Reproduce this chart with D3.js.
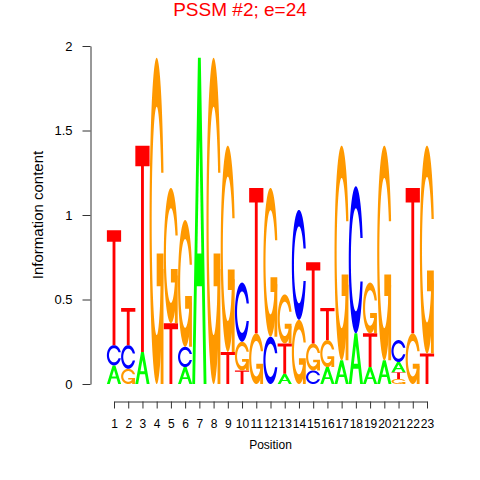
<!DOCTYPE html>
<html>
<head>
<meta charset="utf-8">
<script src="https://cdn.jsdelivr.net/npm/d3@7"></script>
<style>
  body { margin: 0; background: #fff; }
  text { font-family: "Liberation Sans", Arial, sans-serif; }
</style>
</head>
<body>
<svg id="logo" width="480" height="480"></svg>
<script>
// information content (bits) of each base at each position
const positions = d3.range(1, 24);
const bitsA = [0.11, 0, 0.19, 0, 0, 0.10, 1.93, 0, 0, 0, 0, 0, 0.06, 0, 0, 0.10, 0.14, 0.30, 0.10, 0.14, 0.06, 0, 0];
const bitsC = [0.12, 0.14, 0, 0, 0, 0.12, 0, 0, 0, 0.35, 0, 0.28, 0, 0.65, 0.08, 0, 0, 0.87, 0, 0, 0.13, 0, 0];
const bitsG = [0, 0.09, 0, 1.93, 0.80, 0.75, 0, 1.93, 1.22, 0.17, 0.30, 0.88, 0.29, 0.38, 0.16, 0.16, 1.27, 0, 0.30, 1.27, 0.03, 0.30, 1.23];
const bitsT = [0.68, 0.22, 1.22, 0, 0.36, 0, 0, 0, 0.19, 0.08, 0.86, 0, 0.18, 0, 0.48, 0.19, 0, 0, 0.20, 0, 0.04, 0.86, 0.18];
const yTicks = [0, 0.5, 1, 1.5, 2];

const colors = { A: "#00FF00", C: "#0000FF", G: "#FF9900", T: "#FF0000" };

const svg = d3.select("#logo");

const x = d3.scaleLinear().domain([1, 23]).range([114, 427]);
const y = d3.scaleLinear().domain([0, 2]).range([384, 46]);
const colW = x(2) - x(1);

// === LETTER SHAPES (unit square, y up) ===
function seq(a, b, n) {
  return d3.range(n).map(i => a + (b - a) * i / (n - 1));
}

function ringShape() {
  const a1 = seq(0.3 + Math.PI / 2, Math.PI, 100);
  const a2 = seq(Math.PI, 1.5 * Math.PI, 100);
  const outer = a1.concat(a2).map(a => [0.5 + 0.5 * Math.sin(a), 0.5 + 0.5 * Math.cos(a)]);
  const hMax = 0.5 + 0.5 * Math.cos(a1[0]);
  let in1 = a1.map(a => [0.5 + 0.35 * Math.sin(a), 0.5 + 0.35 * Math.cos(a)])
    .filter(p => p[1] <= hMax);
  in1[0] = [in1[0][0], hMax];
  const in2 = a2.map(a => [0.5 + 0.35 * Math.sin(a), 0.5 + 0.35 * Math.cos(a)]);
  const inner = in1.concat(in2);
  const mirror = pts => pts.slice().reverse().map(p => [p[0], 1 - p[1]]);
  const o = outer.concat(mirror(outer));
  const i = inner.concat(mirror(inner));
  return o.concat(i.slice().reverse());
}

const shapes = {
  A: [
    { pts: [[0,0],[4,10],[6,10],[10,0],[8,0],[6.8,3],[3.2,3],[2,0],[0,0]].map(p => [p[0] / 10, p[1] / 10]) },
    { pts: [[3.6,4],[5,7.5],[6.4,4],[3.6,4]].map(p => [p[0] / 10, p[1] / 10]), fill: "#FFFFFF" }
  ],
  C: [{ pts: ringShape() }],
  G: (() => {
    const r1 = 0.5 + 0.5 * Math.sin(0.3 + Math.PI / 2);
    const h1 = 0.4;
    return [
      { pts: ringShape().reverse() },
      { pts: [[r1,h1],[0.5,h1],[0.5,h1-0.1],[r1-0.2,h1-0.1],[r1-0.2,0],[r1,0],[r1,h1]] }
    ];
  })(),
  T: [{ pts: [[0,10],[10,10],[10,9],[6,9],[6,0],[4,0],[4,9],[0,9]].map(p => [p[0] / 10, p[1] / 10]) }]
};

// === STACKS ===
const stacks = positions.map((pos, i) => {
  const letters = [
    { base: "A", h: bitsA[i] }, { base: "C", h: bitsC[i] },
    { base: "G", h: bitsG[i] }, { base: "T", h: bitsT[i] }
  ].filter(d => d.h > 0).sort((a, b) => a.h - b.h);
  let acc = 0;
  letters.forEach(d => { d.y0 = acc; acc += d.h; d.pos = pos; });
  return letters;
});

const line = d3.line();
const logoG = svg.append("g");

stacks.flat().forEach(d => {
  const x0 = x(d.pos) - colW / 2;
  const yb = y(d.y0);
  const hp = y(d.y0) - y(d.y0 + d.h);
  shapes[d.base].forEach(part => {
    logoG.append("path")
      .attr("d", line(part.pts.map(p => [x0 + p[0] * colW, yb - p[1] * hp])) + "Z")
      .attr("fill", part.fill || colors[d.base]);
  });
});

// === AXES ===
const yAxis = d3.axisLeft(y)
  .tickValues(yTicks)
  .tickFormat(d3.format("~g"))
  .tickSizeInner(8)
  .tickSizeOuter(0)
  .tickPadding(10);

svg.append("g")
  .attr("transform", "translate(90.5,0)")
  .call(yAxis)
  .call(g => g.selectAll("text").attr("font-size", 13).attr("fill", "#000"))
  .call(g => g.selectAll("line,path").attr("stroke", "#333"));

const xAxis = d3.axisBottom(x)
  .tickValues(positions)
  .tickFormat(d3.format("d"))
  .tickSizeInner(7)
  .tickSizeOuter(0)
  .tickPadding(11);

svg.append("g")
  .attr("transform", "translate(0,401.5)")
  .call(xAxis)
  .call(g => g.selectAll("text").attr("font-size", 12).attr("fill", "#000"))
  .call(g => g.selectAll("line,path").attr("stroke", "#333"));

// === LABELS ===
svg.append("text")
  .attr("x", 240).attr("y", 16)
  .attr("text-anchor", "middle")
  .attr("font-size", 19)
  .attr("fill", "#FF0000")
  .text("PSSM #2; e=24");

svg.append("text")
  .attr("x", 270.5).attr("y", 449)
  .attr("text-anchor", "middle")
  .attr("font-size", 12)
  .text("Position");

svg.append("text")
  .attr("transform", "translate(43,215) rotate(-90)")
  .attr("text-anchor", "middle")
  .attr("font-size", 15)
  .text("Information content");
</script>
</body>
</html>
